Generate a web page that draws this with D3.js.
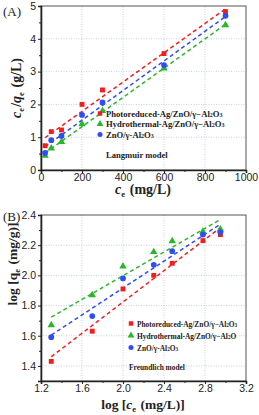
<!DOCTYPE html>
<html>
<head>
<meta charset="utf-8">
<script src="https://cdn.jsdelivr.net/npm/d3@7"></script>
<style>
  body { margin: 0; background: #fff; }
  svg { display: block; }
</style>
</head>
<body>
<svg id="chart" width="259" height="415"></svg>
<script>
// Langmuir panel (A)
var ceValues = [20, 50, 100, 200, 300, 600, 900];
var langPhoto = [0.74, 1.17, 1.22, 2.0, 2.44, 3.55, 4.83];
var langHydro = [0.44, 0.66, 0.86, 1.40, 1.80, 3.10, 4.42];
var langZnO = [0.52, 0.91, 1.04, 1.68, 2.06, 3.20, 4.70];

// Freundlich panel (B)
var logCe = [1.30, 1.70, 2.00, 2.30, 2.48, 2.78, 2.95];
var freuPhoto = [1.43, 1.63, 1.91, 2.00, 2.08, 2.23, 2.27];
var freuHydro = [1.67, 1.87, 2.06, 2.155, 2.227, 2.29, 2.305];
var freuZnO = [1.59, 1.73, 1.98, 2.07, 2.16, 2.27, 2.285];

var xTicksA = [0, 200, 400, 600, 800, 1000];
var yTicksA = [0, 1, 2, 3, 4, 5];
var xTicksB = [1.2, 1.6, 2.0, 2.4, 2.8, 3.2];
var yTicksB = [1.4, 1.6, 1.8, 2.0, 2.2, 2.4];

var seriesNames = ["Photoreduced-Ag/ZnO/\u03b3\u2212Al", "Hydrothermal-Ag/ZnO/\u03b3\u2212Al", "ZnO/\u03b3-Al"];
var colors = ["#f41d1d", "#2ab52a", "#2f4cf5"];
var shapes = [d3.symbolSquare, d3.symbolTriangle, d3.symbolCircle];

var svg = d3.select("#chart");

function fit(xs, ys) {
  var mx = d3.mean(xs), my = d3.mean(ys);
  var sxy = 0, sxx = 0;
  for (var i = 0; i < xs.length; i++) {
    sxy += (xs[i] - mx) * (ys[i] - my);
    sxx += (xs[i] - mx) * (xs[i] - mx);
  }
  var b = sxy / sxx;
  return function(x) { return my + b * (x - mx); };
}

function drawPanel(opt) {
  var g = svg.append("g");
  var x = d3.scaleLinear().domain(opt.xDomain).range([41, 246]);
  var y = d3.scaleLinear().domain(opt.yDomain).range(opt.yRange);

  // grid
  g.selectAll(".gx").data(opt.xTicks.slice(1, -1)).enter().append("line")
    .attr("x1", d => x(d)).attr("x2", d => x(d))
    .attr("y1", opt.yRange[0]).attr("y2", opt.yRange[1])
    .attr("stroke", "#b9c6d6").attr("stroke-width", 0.8).attr("stroke-dasharray", "1,1.5");
  g.selectAll(".gy").data(opt.yGrid).enter().append("line")
    .attr("y1", d => y(d)).attr("y2", d => y(d))
    .attr("x1", 41).attr("x2", 246)
    .attr("stroke", "#b9c6d6").attr("stroke-width", 0.8).attr("stroke-dasharray", "1,1.5");

  // frame
  g.append("rect").attr("x", 41).attr("y", opt.yRange[1])
    .attr("width", 205).attr("height", opt.yRange[0] - opt.yRange[1])
    .attr("fill", "none").attr("stroke", "#555").attr("stroke-width", 1);

  g.append("g").attr("transform", "translate(0," + opt.yRange[0] + ")")
    .call(d3.axisBottom(x).tickValues(opt.xTicks).tickFormat(opt.xFmt).tickSize(3).tickPadding(1));
  g.append("g").attr("transform", "translate(0," + opt.yRange[0] + ")")
    .call(d3.axisBottom(x).tickValues(opt.xMinor).tickFormat("").tickSize(2))
    .select(".domain").remove();
  g.append("g").attr("transform", "translate(41,0)")
    .call(d3.axisLeft(y).tickValues(opt.yTicks).tickFormat(opt.yFmt).tickSize(3).tickPadding(2));
  g.append("g").attr("transform", "translate(41,0)")
    .call(d3.axisLeft(y).tickValues(opt.yMinor).tickFormat("").tickSize(2))
    .select(".domain").remove();
  g.selectAll(".tick text").attr("font-family", "Liberation Sans, Arial, sans-serif")
    .attr("font-size", 10.5).attr("fill", "#222");
  g.selectAll(".domain").attr("stroke", "#222").attr("stroke-width", 1.6);
  g.selectAll(".tick line").attr("stroke", "#222").attr("stroke-width", 1);

  // fit lines + points
  opt.series.forEach(function(s, i) {
    var f = fit(opt.xs, s);
    var x0 = d3.min(opt.xs), x1 = d3.max(opt.xs);
    g.append("line")
      .attr("x1", x(x0)).attr("y1", y(f(x0)))
      .attr("x2", x(x1)).attr("y2", y(f(x1)))
      .attr("stroke", colors[i]).attr("stroke-width", 1.5)
      .attr("stroke-dasharray", "4,3");
  });
  opt.series.forEach(function(s, i) {
    g.selectAll(".p" + i).data(s).enter().append("path")
      .attr("transform", (d, j) => "translate(" + x(opt.xs[j]) + "," + y(d) + ")")
      .attr("d", d3.symbol().type(shapes[i]).size(i == 2 ? 26 : 24))
      .attr("fill", colors[i]);
  });

  // legend
  var lg = g.append("g").attr("font-family", "Liberation Serif, Times New Roman, serif")
    .attr("font-weight", "bold").attr("font-size", opt.legFont).attr("fill", "#222");
  opt.legNames.forEach(function(name, i) {
    var ly = opt.legY + i * opt.legStep;
    lg.append("path")
      .attr("transform", "translate(" + opt.legX + "," + ly + ")")
      .attr("d", d3.symbol().type(shapes[i]).size(20))
      .attr("fill", colors[i]);
    var t = lg.append("text").attr("x", opt.legX + 6).attr("y", ly + 3);
    t.append("tspan").text(name.base);
    name.subs.forEach(function(p) {
      t.append("tspan").text(p[0]).attr("font-size", opt.legFont * 0.7);
      if (p[1]) t.append("tspan").text(p[1]);
    });
  });
  lg.append("text").attr("x", opt.modelX).attr("y", opt.modelY).text(opt.model);
}

function subs(last) {
  return last ? [["2", "O"], ["3", ""]] : [["2", "O"]];
}

drawPanel({
  xDomain: [0, 1000], yDomain: [0, 5], yRange: [170, 6],
  xTicks: xTicksA, yTicks: yTicksA, yGrid: [1, 2, 3, 4],
  xMinor: [100, 300, 500, 700, 900], yMinor: [0.5, 1.5, 2.5, 3.5, 4.5],
  xFmt: d3.format("d"), yFmt: d3.format("d"),
  xs: ceValues, series: [langPhoto, langHydro, langZnO],
  legNames: [
    { base: seriesNames[0], subs: subs(true) },
    { base: seriesNames[1], subs: subs(true) },
    { base: seriesNames[2], subs: subs(true) }
  ],
  legX: 100, legY: 113.5, legStep: 10.5, legFont: 8.6,
  model: "Langmuir model", modelX: 106, modelY: 158
});

drawPanel({
  xDomain: [1.2, 3.2], yDomain: [1.3, 2.4], yRange: [381, 215],
  xTicks: xTicksB, yTicks: yTicksB, yGrid: [1.4, 1.6, 1.8, 2.0, 2.2],
  xMinor: [1.4, 1.8, 2.2, 2.6, 3.0], yMinor: [1.3, 1.5, 1.7, 1.9, 2.1, 2.3],
  xFmt: d3.format(".1f"), yFmt: d3.format(".1f"),
  xs: logCe, series: [freuPhoto, freuHydro, freuZnO],
  legNames: [
    { base: seriesNames[0], subs: subs(true) },
    { base: seriesNames[1], subs: subs(false) },
    { base: seriesNames[2], subs: subs(true) }
  ],
  legX: 131, legY: 323.5, legStep: 12, legFont: 7.4,
  model: "Freundlich model", modelX: 129, modelY: 370
});

// panel letters
var serif = "Liberation Serif, Times New Roman, serif";
svg.append("text").attr("x", 3).attr("y", 16).attr("font-family", serif)
  .attr("font-size", 13).attr("fill", "#222").text("(A)");
svg.append("text").attr("x", 3).attr("y", 221).attr("font-family", serif)
  .attr("font-size", 13).attr("fill", "#222").text("(B)");

// axis titles
function title(x, y, rot, size) {
  return svg.append("text")
    .attr("transform", "translate(" + x + "," + y + ")" + (rot ? " rotate(-90)" : ""))
    .attr("text-anchor", "middle").attr("font-family", serif)
    .attr("font-weight", "bold").attr("font-size", size).attr("fill", "#222");
}
function sub(t, s) {
  t.append("tspan").text(s).attr("font-size", 8.5).attr("dy", 3);
  t.append("tspan").text("\u200a").attr("dy", -3);
}

var tA = title(143, 194, false, 14);
tA.append("tspan").text("c").attr("font-style", "italic");
sub(tA, "e");
tA.append("tspan").text(" (mg/L)");

var tAy = title(21, 88, true, 14);
tAy.append("tspan").text("c").attr("font-style", "italic");
sub(tAy, "e");
tAy.append("tspan").text("/");
tAy.append("tspan").text("q").attr("font-style", "italic");
sub(tAy, "e");
tAy.append("tspan").text(" (g/L)");

var tB = title(143, 409, false, 13.5);
tB.append("tspan").text("log [");
tB.append("tspan").text("c").attr("font-style", "italic");
sub(tB, "e");
tB.append("tspan").text(" (mg/L)]");

var tBy = title(17, 264, true, 13.5);
tBy.append("tspan").text("log [q");
sub(tBy, "e");
tBy.append("tspan").text(" (mg/g)]");
</script>
</body>
</html>
